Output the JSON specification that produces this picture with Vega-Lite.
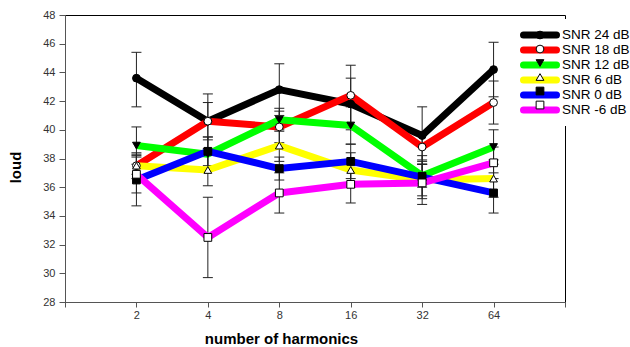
{
  "$schema": "https://vega.github.io/schema/vega-lite/v6.json",
  "width": 500,
  "height": 287,
  "autosize": {"type": "none"},
  "padding": {"left": 65, "top": 15, "right": 65, "bottom": 45},
  "background": "white",
  "config": {
    "view": {"stroke": "black", "strokeWidth": 1},
    "font": "Liberation Sans",
    "axis": {
      "grid": false,
      "labelFont": "Liberation Sans",
      "labelFontSize": 11,
      "labelColor": "#333",
      "labelOverlap": false,
      "domainColor": "#555",
      "tickColor": "#555",
      "titleFont": "Liberation Sans",
      "titleFontSize": 15,
      "titleFontWeight": "bold",
      "titleColor": "black"
    },
    "axisY": {
      "values": [28, 30, 32, 34, 36, 38, 40, 42, 44, 46, 48],
      "tickCount": 11,
      "labelOverlap": false,
      "tickSize": 6,
      "labelPadding": 4,
      "titleX": -50,
      "titleY": 152,
      "titleBaseline": "middle",
      "titleAngle": -90
    }
  },
  "data": {
    "values": [
      {"h": 2, "snr": "SNR 24 dB", "loud": 43.6, "lo": 41.6, "hi": 45.4},
      {"h": 4, "snr": "SNR 24 dB", "loud": 40.6, "lo": 38.7, "hi": 42.5},
      {"h": 8, "snr": "SNR 24 dB", "loud": 42.8, "lo": 41.0, "hi": 44.6},
      {"h": 16, "snr": "SNR 24 dB", "loud": 41.8, "lo": 40.0, "hi": 43.6},
      {"h": 32, "snr": "SNR 24 dB", "loud": 39.6, "lo": 37.6, "hi": 41.6},
      {"h": 64, "snr": "SNR 24 dB", "loud": 44.2, "lo": 42.3, "hi": 46.1},
      {"h": 2, "snr": "SNR 18 dB", "loud": 37.5, "lo": 36.9, "hi": 38.1},
      {"h": 4, "snr": "SNR 18 dB", "loud": 40.6, "lo": 39.3, "hi": 41.9},
      {"h": 8, "snr": "SNR 18 dB", "loud": 40.2, "lo": 39.1, "hi": 41.3},
      {"h": 16, "snr": "SNR 18 dB", "loud": 42.4, "lo": 40.3, "hi": 44.5},
      {"h": 32, "snr": "SNR 18 dB", "loud": 38.8, "lo": 37.9, "hi": 39.7},
      {"h": 64, "snr": "SNR 18 dB", "loud": 41.9, "lo": 40.4, "hi": 43.4},
      {"h": 2, "snr": "SNR 12 dB", "loud": 38.9, "lo": 37.6, "hi": 40.2},
      {"h": 4, "snr": "SNR 12 dB", "loud": 38.3, "lo": 37.1, "hi": 39.5},
      {"h": 8, "snr": "SNR 12 dB", "loud": 40.7, "lo": 39.9, "hi": 41.5},
      {"h": 16, "snr": "SNR 12 dB", "loud": 40.3, "lo": 39.0, "hi": 41.6},
      {"h": 32, "snr": "SNR 12 dB", "loud": 36.8, "lo": 36.0, "hi": 37.6},
      {"h": 64, "snr": "SNR 12 dB", "loud": 38.8, "lo": 37.6, "hi": 40.0},
      {"h": 2, "snr": "SNR 6 dB", "loud": 37.5, "lo": 36.6, "hi": 38.4},
      {"h": 4, "snr": "SNR 6 dB", "loud": 37.2, "lo": 36.1, "hi": 38.3},
      {"h": 8, "snr": "SNR 6 dB", "loud": 38.9, "lo": 37.8, "hi": 40.0},
      {"h": 16, "snr": "SNR 6 dB", "loud": 37.2, "lo": 36.0, "hi": 38.4},
      {"h": 32, "snr": "SNR 6 dB", "loud": 36.5, "lo": 35.4, "hi": 37.6},
      {"h": 64, "snr": "SNR 6 dB", "loud": 36.6, "lo": 35.3, "hi": 37.9},
      {"h": 2, "snr": "SNR 0 dB", "loud": 36.5, "lo": 34.7, "hi": 38.3},
      {"h": 4, "snr": "SNR 0 dB", "loud": 38.5, "lo": 37.5, "hi": 39.5},
      {"h": 8, "snr": "SNR 0 dB", "loud": 37.3, "lo": 36.5, "hi": 38.1},
      {"h": 16, "snr": "SNR 0 dB", "loud": 37.8, "lo": 36.6, "hi": 39.0},
      {"h": 32, "snr": "SNR 0 dB", "loud": 36.7, "lo": 35.2, "hi": 38.2},
      {"h": 64, "snr": "SNR 0 dB", "loud": 35.6, "lo": 34.2, "hi": 37.0},
      {"h": 2, "snr": "SNR -6 dB", "loud": 36.9, "lo": 35.6, "hi": 38.2},
      {"h": 4, "snr": "SNR -6 dB", "loud": 32.5, "lo": 29.7, "hi": 35.3},
      {"h": 8, "snr": "SNR -6 dB", "loud": 35.6, "lo": 34.2, "hi": 37.0},
      {"h": 16, "snr": "SNR -6 dB", "loud": 36.2, "lo": 34.9, "hi": 37.5},
      {"h": 32, "snr": "SNR -6 dB", "loud": 36.3, "lo": 34.8, "hi": 37.8},
      {"h": 64, "snr": "SNR -6 dB", "loud": 37.7, "lo": 36.6, "hi": 38.8}
    ]
  },
  "encoding": {
    "x": {
      "field": "h",
      "type": "quantitative",
      "scale": {"type": "log", "base": 2, "domain": [1, 128]},
      "axis": {
        "title": "number of harmonics",
        "values": [1, 2, 4, 8, 16, 32, 64, 128],
        "labelExpr": "datum.value == 1 || datum.value == 128 ? '' : datum.value",
        "tickSize": 5,
        "labelPadding": 2,
        "titleX": 216,
        "titleY": 36,
        "titleBaseline": "middle"
      }
    }
  },
  "layer": [
    {
      "mark": {"type": "rule", "color": "#222", "strokeWidth": 1},
      "encoding": {
        "y": {
          "field": "lo",
          "type": "quantitative",
          "title": "loud",
          "scale": {"domain": [28, 48], "nice": false}
        },
        "y2": {"field": "hi"}
      }
    },
    {
      "mark": {"type": "tick", "orient": "horizontal", "size": 10, "thickness": 1, "color": "#222", "opacity": 1},
      "encoding": {"y": {"field": "lo", "type": "quantitative", "title": "loud"}}
    },
    {
      "mark": {"type": "tick", "orient": "horizontal", "size": 10, "thickness": 1, "color": "#222", "opacity": 1},
      "encoding": {"y": {"field": "hi", "type": "quantitative", "title": "loud"}}
    },
    {
      "mark": {"type": "line", "strokeWidth": 7, "strokeJoin": "round", "strokeCap": "butt"},
      "encoding": {
        "y": {"field": "loud", "type": "quantitative", "title": "loud"},
        "color": {
          "field": "snr",
          "type": "nominal",
          "sort": ["SNR 24 dB", "SNR 18 dB", "SNR 12 dB", "SNR 6 dB", "SNR 0 dB", "SNR -6 dB"],
          "scale": {
            "range": ["#000000", "#ff0000", "#00ff00", "#ffff00", "#0000ff", "#ff00ff"]
          },
          "legend": {
            "orient": "none",
            "legendX": 446,
            "legendY": 4.1,
            "title": null,
            "symbolType": "stroke",
            "symbolSize": 1089,
            "symbolStrokeWidth": 7,
            "symbolOpacity": 1,
            "clipHeight": 13.85,
            "rowPadding": 0,
            "padding": 9,
            "fillColor": "white",
            "labelOffset": 2,
            "labelFont": "Liberation Sans",
            "labelFontSize": 13.5,
            "labelColor": "black",
            "labelLimit": 200,
            "encode": {"symbols": {"update": {"strokeCap": {"value": "round"}}}}
          }
        }
      }
    },
    {
      "mark": {"type": "point", "filled": true, "stroke": "black", "strokeWidth": 1, "size": 60, "opacity": 1},
      "encoding": {
        "y": {"field": "loud", "type": "quantitative", "title": "loud"},
        "shape": {
          "field": "snr",
          "type": "nominal",
          "scale": {
            "domain": ["SNR 24 dB", "SNR 18 dB", "SNR 12 dB", "SNR 6 dB", "SNR 0 dB", "SNR -6 dB"],
            "range": ["circle", "circle", "triangle-down", "triangle-up", "square", "square"]
          },
          "legend": {
            "orient": "none",
            "legendX": 469,
            "legendY": 13.1,
            "title": null,
            "symbolSize": 60,
            "symbolStrokeColor": "black",
            "symbolStrokeWidth": 1,
            "symbolOpacity": 1,
            "clipHeight": 13.85,
            "rowPadding": 0,
            "padding": 0,
            "labelExpr": "''",
            "labelFontSize": 12,
            "encode": {"symbols": {"update": {"stroke": {"value": "black"}, "strokeWidth": {"value": 1}}}}
          }
        },
        "fill": {
          "field": "snr",
          "type": "nominal",
          "scale": {
            "domain": ["SNR 24 dB", "SNR 18 dB", "SNR 12 dB", "SNR 6 dB", "SNR 0 dB", "SNR -6 dB"],
            "range": ["#000000", "#ffffff", "#000000", "#ffffff", "#000000", "#ffffff"]
          },
          "legend": {
            "orient": "none",
            "legendX": 469,
            "legendY": 13.1,
            "title": null,
            "symbolSize": 60,
            "symbolStrokeColor": "black",
            "symbolStrokeWidth": 1,
            "symbolOpacity": 1,
            "clipHeight": 13.85,
            "rowPadding": 0,
            "padding": 0,
            "labelExpr": "''",
            "labelFontSize": 12,
            "encode": {"symbols": {"update": {"stroke": {"value": "black"}, "strokeWidth": {"value": 1}}}}
          }
        }
      }
    }
  ]
}
